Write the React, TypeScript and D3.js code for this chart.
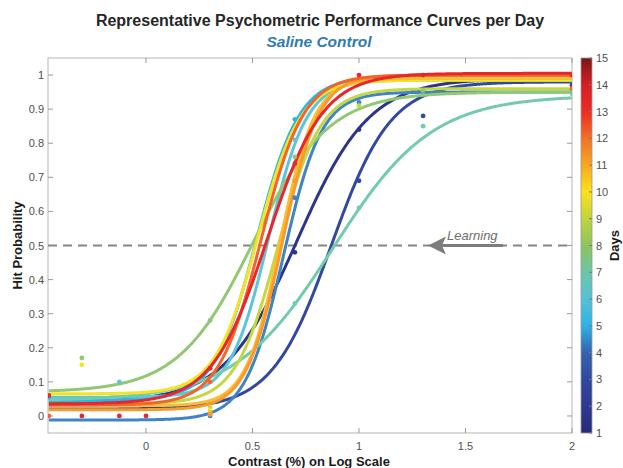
import React from "react";
import * as d3 from "d3";

// ---------- data ----------
const days = [1, 2, 4, 5, 6, 7, 8, 9, 10, 11, 12, 13, 14];
const guessRate = [0.04, 0.02, -0.012, 0.045, 0.055, 0.045, 0.07, 0.035, 0.065, 0.03, 0.018, 0.032, 0.035];
const upperAsym = [0.99, 0.98, 0.95, 0.995, 0.985, 0.94, 0.95, 0.96, 0.985, 0.99, 1.0, 1.0, 1.005];
const midpoint = [0.71, 0.87, 0.645, 0.52, 0.575, 0.878, 0.504, 0.62, 0.525, 0.63, 0.64, 0.54, 0.57];
const slopeScale = [0.17, 0.14, 0.09, 0.1, 0.09, 0.232, 0.176, 0.1, 0.1, 0.08, 0.085, 0.1, 0.13];

// observed points
const pointDay = [1, 1, 2, 2, 2, 4, 4, 4, 5, 5, 6, 6, 7, 7, 7, 7, 8, 8, 8, 8, 9, 9, 10, 10, 11, 12, 12, 13, 13, 13, 14, 14, 14, 14, 14, 14, 14, 14, 14];
const pointX = [0.699, 1, 1, 1.301, 2, 0.301, 0.699, 1, -0.456, 0.699, -0.125, 0.699, 0.699, 1, 1.301, 2, -0.301, 0.301, 0.699, 1.301, 0.301, 1, -0.301, 0.301, 0.301, 0.301, 0.699, -0.456, 0.301, 2, -0.456, -0.301, -0.125, 0, 0.301, 0.699, 1, 1.301, 2];
const pointY = [0.48, 0.84, 0.69, 0.88, 0.97, 0.0, 0.64, 0.92, 0.055, 0.87, 0.10, 0.81, 0.33, 0.61, 0.85, 0.945, 0.17, 0.28, 0.76, 0.955, 0.025, 0.91, 0.15, 0.018, 0.01, 0.005, 0.69, 0.0, 0.10, 0.96, 0.06, 0.0, 0.0, 0.0, 0.14, 0.74, 1.0, 1.0, 1.0];

const xTicks = [0, 0.5, 1, 1.5, 2];
const yTicks = [0, 0.1, 0.2, 0.3, 0.4, 0.5, 0.6, 0.7, 0.8, 0.9, 1];
const cbTicks = [1, 2, 3, 4, 5, 6, 7, 8, 9, 10, 11, 12, 13, 14, 15];
const learningLevel = 0.5;

// ---------- styles ----------
const cmap = [
  "#272a7b", "#2c3a8f", "#30499d", "#3562ad", "#2cb2e6",
  "#56c1d6", "#6cc6a8", "#8cc55e", "#c0d43c", "#fde21a",
  "#f7a820", "#f27025", "#ec2c25", "#d51f26", "#7a1517",
];
const lineColors: Record<number, string> = {
  1: "#2d3589", 2: "#3349a0", 4: "#3d84c8", 5: "#29b5e9", 6: "#5cc5d9",
  7: "#73cbab", 8: "#92c872", 9: "#c4d843", 10: "#f6e324", 11: "#fbbd30",
  12: "#f89a2c", 13: "#f26428", 14: "#e8262b",
};

const W = 623, H = 468;
const L = 48, R = 572, T = 58, B = 433;
const FONT = "'Liberation Sans', Arial, Helvetica, sans-serif";

export default function App() {
  const x = d3.scaleLinear().domain([-0.46, 2]).range([L, R]);
  const y = d3.scaleLinear().domain([-0.05, 1.05]).range([B, T]);
  const cb = d3.scaleLinear().domain([1, 15]).range([B, T]);

  const xs = d3.range(-0.456, 2.0001, 0.005);
  const lineGen = d3.line<[number, number]>().x((d) => x(d[0])).y((d) => y(d[1]));

  const curves = days.map((day, i) => {
    const g = guessRate[i], top = upperAsym[i], m = midpoint[i], s = slopeScale[i];
    const pts: [number, number][] = xs.map((v) => [v, g + (top - g) / (1 + Math.exp(-(v - m) / s))]);
    return { day, path: lineGen(pts) };
  });

  const tickColor = "#9a9a9a";
  const labelColor = "#505050";
  const ly = y(learningLevel);

  return (
    <svg width={W} height={H} style={{ position: "absolute", left: 0, top: 0, background: "#fff" }} fontFamily={FONT}>
      <defs>
        <linearGradient id="cbgrad" x1="0" y1="1" x2="0" y2="0">
          {cmap.map((c, i) => (
            <stop key={i} offset={`${(i / (cmap.length - 1)) * 100}%`} stopColor={c} />
          ))}
        </linearGradient>
        <clipPath id="plotclip">
          <rect x={L} y={T} width={R - L} height={B - T} />
        </clipPath>
      </defs>

      {/* titles */}
      <text x={320} y={26} textAnchor="middle" fontSize={16} fontWeight="bold" fill="#262626">
        Representative Psychometric Performance Curves per Day
      </text>
      <text x={319} y={47} textAnchor="middle" fontSize={15.5} fontWeight="bold" fontStyle="italic" fill="#2f7db0">
        Saline Control
      </text>

      {/* frame */}
      <rect x={L} y={T} width={R - L} height={B - T} fill="none" stroke="#b5b5b5" strokeWidth={1} />

      {/* y ticks */}
      {yTicks.map((t) => (
        <g key={"y" + t}>
          <line x1={L} x2={L + 5} y1={y(t)} y2={y(t)} stroke={tickColor} />
          <line x1={R} x2={R - 5} y1={y(t)} y2={y(t)} stroke={tickColor} />
          <text x={L - 4} y={y(t) + 4} textAnchor="end" fontSize={11} fill={labelColor}>
            {String(t)}
          </text>
        </g>
      ))}
      {/* x ticks */}
      {xTicks.map((t) => (
        <g key={"x" + t}>
          <line x1={x(t)} x2={x(t)} y1={B} y2={B - 5} stroke={tickColor} />
          <line x1={x(t)} x2={x(t)} y1={T} y2={T + 5} stroke={tickColor} />
          <text x={x(t)} y={450} textAnchor="middle" fontSize={11} fill={labelColor}>
            {String(t)}
          </text>
        </g>
      ))}

      {/* learning threshold */}
      <line x1={L} x2={R} y1={ly} y2={ly} stroke="#858585" strokeWidth={2} strokeDasharray="9,6" />

      {/* curves */}
      <g clipPath="url(#plotclip)">
        {curves.map((c) => (
          <path key={c.day} d={c.path || ""} fill="none" stroke={lineColors[c.day]} strokeWidth={3} strokeLinejoin="round" />
        ))}
        {pointDay.map((d, i) => (
          <circle key={i} cx={x(pointX[i])} cy={y(pointY[i])} r={2.4} fill={lineColors[d]} />
        ))}
      </g>

      {/* learning annotation */}
      <g>
        <line x1={503} x2={442} y1={ly} y2={ly} stroke="#7d7d7d" strokeWidth={3} />
        <path d={`M428,${ly} L446,${ly - 9} L442,${ly} L446,${ly + 9} Z`} fill="#7d7d7d" />
        <text x={447} y={240} fontSize={13} fontStyle="italic" fill="#6e6e6e">
          Learning
        </text>
      </g>

      {/* axis labels */}
      <text x={309} y={466} textAnchor="middle" fontSize={13} fontWeight="bold" fill="#1a1a1a">
        Contrast (%) on Log Scale
      </text>
      <text transform={`translate(22, ${ly}) rotate(-90)`} textAnchor="middle" fontSize={13} fontWeight="bold" fill="#1a1a1a">
        Hit Probability
      </text>

      {/* colorbar */}
      <rect x={581} y={T} width={11} height={B - T} fill="url(#cbgrad)" stroke="#9a9a9a" strokeWidth={0.8} />
      {cbTicks.map((t) => (
        <g key={"c" + t}>
          <line x1={592} x2={589} y1={cb(t)} y2={cb(t)} stroke="#7a7a7a" />
          <text x={596} y={cb(t) + 4} fontSize={11} fill={labelColor}>
            {String(t)}
          </text>
        </g>
      ))}
      <text transform={`translate(619, ${ly}) rotate(-90)`} textAnchor="middle" fontSize={13} fontWeight="bold" fill="#1a1a1a">
        Days
      </text>
    </svg>
  );
}
